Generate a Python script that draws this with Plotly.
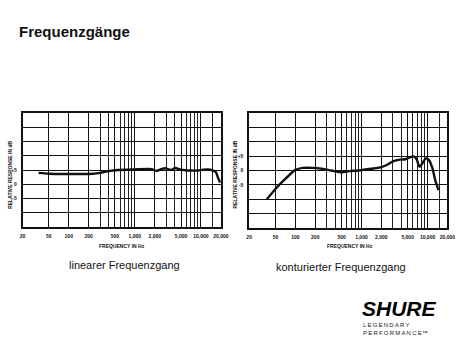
import plotly.graph_objects as go

# ---- data ----
lin_freq = [35, 50, 100, 200, 300, 400, 550, 1000, 1800, 2100, 2500, 2900, 3500, 4100,
            4800, 5800, 7000, 9000, 10700, 12700, 15000, 16800, 18000, 19500]
lin_db = [4.0, 3.7, 3.6, 3.6, 4.0, 4.6, 5.0, 5.2, 5.3, 4.7, 5.3, 5.6, 5.0, 5.7,
          5.2, 4.9, 4.8, 4.8, 5.1, 5.2, 4.9, 4.3, 2.5, 0.6]

kon_freq = [37, 52, 73, 100, 130, 180, 250, 350, 500, 660, 900, 1400, 2000, 2500, 3000,
            3800, 4600, 5400, 6200, 6800, 7600, 8500, 9500, 10500, 11800, 13200, 14700]
kon_db = [-10, -6.0, -2.6, 0.2, 0.9, 0.9, 0.6, 0.0, -0.6, -0.2, 0.0, 0.6, 1.2, 2.1, 3.2,
          3.8, 3.9, 4.6, 4.9, 4.0, 1.3, 2.8, 4.2, 3.6, 0.9, -3.7, -6.8]

x_tick_vals = [20, 50, 100, 200, 500, 1000, 2000, 5000, 10000, 20000]
x_tick_text = ["20", "50", "100", "200", "500", "1,000", "2,000", "5,000", "10,000", "20,000"]
x_minor_vals = [300, 400, 600, 700, 800, 900, 3000, 4000, 6000, 7000, 8000, 9000, 15000]
y_tick_vals = [-5, 0, 5]
y_tick_text = ["-5", "0", "+5"]

title_text = "Frequenzgänge"
sub_left = "linearer Frequenzgang"
sub_right = "konturierter Frequenzgang"
x_title = "FREQUENCY IN Hz"
y_title = "RELATIVE RESPONSE IN dB"

W, H = 474, 355


def px(x):
    return x / W


def py(y):
    return 1 - y / H


fig = go.Figure()
fig.add_trace(go.Scatter(x=lin_freq, y=lin_db, mode="lines", xaxis="x", yaxis="y",
                         line=dict(color="#111", width=2.4, shape="spline", smoothing=0.6),
                         showlegend=False, hoverinfo="skip"))
fig.add_trace(go.Scatter(x=kon_freq, y=kon_db, mode="lines", xaxis="x2", yaxis="y2",
                         line=dict(color="#111", width=2.4, shape="spline", smoothing=0.8),
                         showlegend=False, hoverinfo="skip"))

tickfont = dict(family="Liberation Sans", size=5, color="#111", weight="bold")


def xaxis(domain, anchor):
    return dict(domain=domain, anchor=anchor, type="log", range=[1.30103, 4.30103],
                tickvals=x_tick_vals, ticktext=x_tick_text, tickfont=tickfont,
                ticks="", ticklabelstandoff=3,
                showgrid=True, gridcolor="#111", gridwidth=1.4,
                minor=dict(tickvals=x_minor_vals, showgrid=True, gridcolor="#222", gridwidth=1),
                showline=True, linecolor="#111", linewidth=1.6, mirror=True,
                zeroline=False, fixedrange=True)


def yaxis(domain, anchor, rng):
    return dict(domain=domain, anchor=anchor, range=rng,
                tickvals=y_tick_vals, ticktext=y_tick_text, tickfont=tickfont,
                ticks="", ticklabelstandoff=3,
                showgrid=True, gridcolor="#111", gridwidth=1.4,
                minor=dict(dtick=5, tick0=0, showgrid=True, gridcolor="#111", gridwidth=1.4),
                showline=True, linecolor="#111", linewidth=1.6, mirror=True,
                zeroline=False, fixedrange=True)


fig.update_layout(
    width=W, height=H, margin=dict(l=0, r=0, t=0, b=0),
    paper_bgcolor="white", plot_bgcolor="white",
    xaxis=xaxis([px(20), px(223)], "y"),
    yaxis=yaxis([py(227), py(113)], "x", [-15, 25]),
    xaxis2=xaxis([px(252), px(455)], "y2"),
    yaxis2=yaxis([py(228), py(113)], "x2", [-20, 20]),
)

ann = []


def add(text, x, y, size, xanchor="center", angle=0, weight="normal", style="normal",
        family="Liberation Sans", color="#111"):
    ann.append(dict(text=text, x=px(x), y=py(y), xref="paper", yref="paper",
                    xanchor=xanchor, yanchor="middle", showarrow=False, textangle=angle,
                    borderpad=0,
                    font=dict(family=family, size=size, color=color, weight=weight, style=style)))


add(title_text, 15, 32, 15, xanchor="left", weight="bold")
add(sub_left, 124, 265, 11)
add(sub_right, 346, 267, 11)
add(x_title, 122, 246, 5, weight="bold")
add(x_title, 355, 246, 5, weight="bold")
add(y_title, 7, 175, 5, angle=-90, weight="bold")
add(y_title, 237, 175, 5, angle=-90, weight="bold")
add("SHURE", 366, 308, 21, xanchor="left", weight=900, style="italic", color="#000")
add("\u2009".join("LEGENDARY"), 368, 325, 6, xanchor="left", color="#222")
add("\u2009".join("PERFORMANCE") + "\u2122", 368, 333, 6, xanchor="left", color="#222")

fig.update_layout(annotations=ann)
fig.write_html("out.html")
